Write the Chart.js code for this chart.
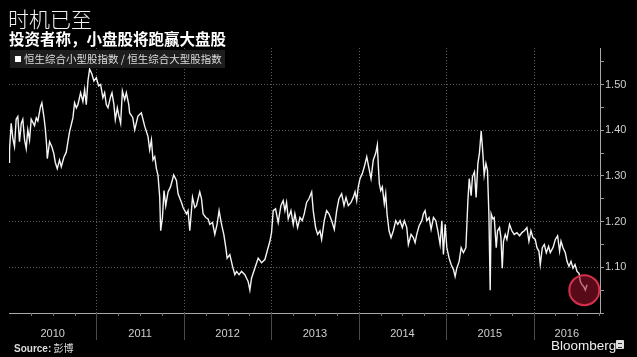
<!DOCTYPE html>
<html>
<head>
<meta charset="utf-8">
<script src="https://cdn.jsdelivr.net/npm/chart.js@4.4.1/dist/chart.umd.min.js"></script>
<style>
html, body { margin: 0; padding: 0; background: #000; }
#wrap { position: relative; width: 637px; height: 357px; overflow: hidden; background: #000;
        font-family: "Noto Sans CJK SC", "Noto Sans", sans-serif; }
#chart { position: absolute; left: 0; top: 0; }
.t { position: absolute; white-space: nowrap; }
#title { left: 8px; top: 8px; font-size: 21px; line-height: 21px; color: #f2f2f2; font-weight: 300; }
#subtitle { left: 9px; top: 30px; font-size: 15.5px; line-height: 16px; color: #fff; font-weight: 700; }
#legend { left: 10px; top: 50px; width: 215px; height: 18px; background: #1d1d1d; }
#legend .sq { position: absolute; left: 5px; top: 6px; width: 6px; height: 6px; background: #fff; }
#legend .lbl { position: absolute; left: 14px; top: 0; font-size: 10.5px; line-height: 18px; color: #ddd; }
#source { left: 14px; top: 342px; font-size: 10px; line-height: 12px; color: #ddd; }
#source b { font-family: "Liberation Sans", Arial, sans-serif; }
#logo { left: 551px; top: 339px; font-family: "Liberation Sans", Arial, sans-serif; font-size: 13.5px; line-height: 14px; color: #eee; }
#icon { left: 616px; top: 340px; width: 8px; height: 9px; background: #ddd; border-radius: 1px; }
#icon i { position: absolute; left: 2px; top: 3px; width: 4px; height: 3px; border-top: 1px solid #333; border-bottom: 1px solid #333; }
</style>
</head>
<body>
<div id="wrap">
  <canvas id="chart" width="637" height="357"></canvas>
  <div class="t" id="title">时机已至</div>
  <div class="t" id="subtitle">投资者称，小盘股将跑赢大盘股</div>
  <div class="t" id="legend"><div class="sq"></div><div class="lbl">恒生综合小型股指数 / 恒生综合大型股指数</div></div>
  <div class="t" id="source"><b>Source:</b> 彭博</div>
  <div class="t" id="logo">Bloomberg</div>
  <div class="t" id="icon"><i></i></div>
</div>
<script>
// small cap / large cap ratio (decimal years)
const dates = [
  2010.000, 2010.006, 2010.025, 2010.044, 2010.063, 2010.082, 2010.101, 2010.120, 2010.140, 2010.158,
  2010.178, 2010.197, 2010.215, 2010.235, 2010.254, 2010.292, 2010.312, 2010.330, 2010.361, 2010.376,
  2010.399, 2010.415, 2010.430, 2010.438, 2010.464, 2010.490, 2010.513, 2010.529, 2010.552, 2010.578,
  2010.598, 2010.628, 2010.655, 2010.674, 2010.693, 2010.712, 2010.731, 2010.750, 2010.770, 2010.788,
  2010.819, 2010.845, 2010.865, 2010.884, 2010.903, 2010.922, 2010.948, 2010.971, 2010.999, 2011.025,
  2011.048, 2011.074, 2011.094, 2011.113, 2011.132, 2011.163, 2011.178, 2011.200, 2011.216, 2011.239,
  2011.254, 2011.277, 2011.297, 2011.323, 2011.342, 2011.369, 2011.380, 2011.415, 2011.438, 2011.475,
  2011.514, 2011.552, 2011.590, 2011.609, 2011.629, 2011.647, 2011.667, 2011.686, 2011.704, 2011.724,
  2011.735, 2011.755, 2011.773, 2011.793, 2011.819, 2011.847, 2011.884, 2011.915, 2011.934, 2011.973,
  2011.991, 2012.030, 2012.048, 2012.068, 2012.099, 2012.125, 2012.144, 2012.182, 2012.202, 2012.220,
  2012.251, 2012.277, 2012.297, 2012.328, 2012.354, 2012.380, 2012.403, 2012.431, 2012.457, 2012.480,
  2012.495, 2012.526, 2012.557, 2012.583, 2012.603, 2012.632, 2012.660, 2012.698, 2012.717, 2012.735,
  2012.755, 2012.774, 2012.812, 2012.850, 2012.889, 2012.927, 2012.958, 2012.984, 2013.003, 2013.022,
  2013.049, 2013.079, 2013.110, 2013.136, 2013.156, 2013.175, 2013.194, 2013.225, 2013.251, 2013.270,
  2013.301, 2013.328, 2013.354, 2013.377, 2013.404, 2013.431, 2013.462, 2013.480, 2013.507, 2013.530,
  2013.557, 2013.576, 2013.606, 2013.633, 2013.660, 2013.691, 2013.721, 2013.748, 2013.774, 2013.805,
  2013.832, 2013.855, 2013.881, 2013.912, 2013.938, 2013.958, 2013.977, 2013.995, 2014.015, 2014.041,
  2014.064, 2014.092, 2014.118, 2014.141, 2014.167, 2014.195, 2014.213, 2014.225, 2014.236, 2014.252,
  2014.270, 2014.293, 2014.309, 2014.324, 2014.347, 2014.370, 2014.396, 2014.424, 2014.447, 2014.473,
  2014.499, 2014.522, 2014.550, 2014.568, 2014.599, 2014.625, 2014.645, 2014.664, 2014.691, 2014.722,
  2014.740, 2014.759, 2014.779, 2014.805, 2014.828, 2014.855, 2014.882, 2014.905, 2014.931, 2014.951,
  2014.969, 2014.989, 2015.008, 2015.034, 2015.057, 2015.084, 2015.103, 2015.122, 2015.149, 2015.172,
  2015.198, 2015.226, 2015.249, 2015.264, 2015.286, 2015.301, 2015.324, 2015.343, 2015.363, 2015.381,
  2015.401, 2015.420, 2015.435, 2015.455, 2015.473, 2015.489, 2015.504, 2015.515, 2015.535, 2015.550,
  2015.573, 2015.588, 2015.611, 2015.627, 2015.642, 2015.656, 2015.676, 2015.695, 2015.725, 2015.752,
  2015.779, 2015.810, 2015.840, 2015.867, 2015.894, 2015.924, 2015.947, 2015.970, 2015.993, 2016.019,
  2016.039, 2016.062, 2016.077, 2016.100, 2016.123, 2016.146, 2016.172, 2016.191, 2016.222, 2016.249,
  2016.275, 2016.298, 2016.314, 2016.337, 2016.363, 2016.383, 2016.405, 2016.428, 2016.451, 2016.474,
  2016.497, 2016.520, 2016.535, 2016.554, 2016.573, 2016.592, 2016.612
];

const ratio = [
  1.330, 1.357, 1.415, 1.382, 1.364, 1.424, 1.430, 1.375, 1.415, 1.424,
  1.379, 1.360, 1.401, 1.379, 1.424, 1.410, 1.427, 1.420, 1.452, 1.460,
  1.430, 1.404, 1.368, 1.338, 1.375, 1.364, 1.349, 1.330, 1.316, 1.335,
  1.320, 1.341, 1.352, 1.375, 1.397, 1.412, 1.427, 1.460, 1.449, 1.456,
  1.482, 1.463, 1.489, 1.456, 1.508, 1.534, 1.523, 1.508, 1.515, 1.497,
  1.500, 1.471, 1.482, 1.456, 1.449, 1.474, 1.482, 1.456, 1.423, 1.449,
  1.434, 1.415, 1.486, 1.467, 1.482, 1.457, 1.438, 1.428, 1.401, 1.431,
  1.438, 1.409, 1.386, 1.357, 1.379, 1.335, 1.342, 1.316, 1.302, 1.253,
  1.180, 1.209, 1.268, 1.235, 1.265, 1.276, 1.302, 1.290, 1.261, 1.242,
  1.231, 1.217, 1.224, 1.180, 1.253, 1.231, 1.235, 1.265, 1.250, 1.217,
  1.209, 1.206, 1.194, 1.198, 1.172, 1.194, 1.224, 1.194, 1.172, 1.143,
  1.120, 1.128, 1.102, 1.084, 1.091, 1.084, 1.091, 1.084, 1.076, 1.069,
  1.050, 1.076, 1.098, 1.120, 1.110, 1.117, 1.139, 1.157, 1.176, 1.224,
  1.228, 1.198, 1.235, 1.246, 1.224, 1.242, 1.206, 1.224, 1.194, 1.217,
  1.187, 1.209, 1.202, 1.217, 1.242, 1.250, 1.265, 1.224, 1.187, 1.172,
  1.180, 1.161, 1.202, 1.224, 1.217, 1.202, 1.183, 1.224, 1.250, 1.261,
  1.235, 1.253, 1.235, 1.242, 1.253, 1.265, 1.246, 1.276, 1.294, 1.305,
  1.320, 1.342, 1.316, 1.294, 1.335, 1.350, 1.368, 1.320, 1.283, 1.268,
  1.276, 1.239, 1.261, 1.217, 1.180, 1.165, 1.180, 1.202, 1.194, 1.202,
  1.187, 1.202, 1.187, 1.150, 1.172, 1.165, 1.154, 1.172, 1.191, 1.202,
  1.217, 1.224, 1.202, 1.209, 1.183, 1.209, 1.202, 1.180, 1.150, 1.202,
  1.128, 1.194, 1.143, 1.120, 1.106, 1.095, 1.080, 1.098, 1.113, 1.143,
  1.132, 1.143, 1.246, 1.294, 1.257, 1.298, 1.309, 1.253, 1.327, 1.350,
  1.398, 1.350, 1.302, 1.327, 1.312, 1.217, 1.050, 1.217, 1.206, 1.209,
  1.143, 1.180, 1.187, 1.165, 1.098, 1.157, 1.172, 1.161, 1.194, 1.180,
  1.172, 1.176, 1.169, 1.176, 1.180, 1.187, 1.157, 1.180, 1.165, 1.161,
  1.143, 1.135, 1.106, 1.143, 1.150, 1.132, 1.146, 1.132, 1.143, 1.161,
  1.169, 1.135, 1.157, 1.143, 1.132, 1.113, 1.102, 1.113, 1.098, 1.106,
  1.091, 1.087, 1.069, 1.062, 1.058, 1.050, 1.062
];

const yearLabels = ["2010", "2011", "2012", "2013", "2014", "2015", "2016"];
const yTickLabels = ["1.10", "1.20", "1.30", "1.40", "1.50"];

const xMin = 2010, xMax = 2016.76;
const yMin = 1.0, yMax = 1.58;
const firstYear = Number(yearLabels[0]);

Chart.defaults.font.family = '"Liberation Sans", Arial, sans-serif';
Chart.defaults.font.size = 11;

const gridColor = "#5c5c5c";
const axisColor = "#a8a8a8";

// dotted year lines in the plot, quarter ticks and long year dividers under the x axis
const axisMarks = {
    id: "axisMarks",
    beforeDatasetsDraw(chart) {
        const { ctx, chartArea, scales: { x } } = chart;
        ctx.save();
        ctx.lineWidth = 1;
        ctx.strokeStyle = gridColor;
        ctx.setLineDash([1, 2]);
        yearLabels.forEach((lab, i) => {
            if (i === 0) return;
            const px = Math.round(x.getPixelForValue(firstYear + i)) + 0.5;
            ctx.beginPath();
            ctx.moveTo(px, chartArea.top);
            ctx.lineTo(px, chartArea.bottom);
            ctx.stroke();
        });
        ctx.restore();
    },
    afterDraw(chart) {
        const { ctx, chartArea, scales: { x } } = chart;
        const base = chartArea.bottom;
        ctx.save();
        ctx.lineWidth = 1;
        yearLabels.forEach((lab, i) => {
            const y0 = firstYear + i;
            ctx.strokeStyle = "#7a7a7a";
            [0.25, 0.5, 0.75].forEach(q => {
                if (y0 + q >= x.max) return;
                const px = Math.round(x.getPixelForValue(y0 + q)) + 0.5;
                ctx.beginPath();
                ctx.moveTo(px, base);
                ctx.lineTo(px, base + 3);
                ctx.stroke();
            });
            if (i > 0) {
                const px = Math.round(x.getPixelForValue(y0)) + 0.5;
                ctx.strokeStyle = "#4a4a4a";
                ctx.beginPath();
                ctx.moveTo(px, base);
                ctx.lineTo(px, base + 27);
                ctx.stroke();
            }
        });
        ctx.restore();
    }
};

// red circle around the latest low
const highlight = {
    id: "highlight",
    afterDatasetsDraw(chart) {
        const pts = chart.getDatasetMeta(0).data;
        const tail = pts.slice(-4);
        let low = tail[0];
        tail.forEach(p => { if (p.y > low.y) low = p; });
        const ctx = chart.ctx;
        ctx.save();
        ctx.beginPath();
        ctx.arc(low.x - 1, low.y, 15, 0, Math.PI * 2);
        ctx.fillStyle = "rgba(160, 18, 45, 0.55)";
        ctx.fill();
        ctx.lineWidth = 2;
        ctx.strokeStyle = "#d7304f";
        ctx.stroke();
        ctx.restore();
    }
};

function renderChart() {
    const ctx = document.getElementById("chart");

    new Chart(ctx, {
        type: "line",
        data: {
            datasets: [{
                data: dates.map((d, i) => ({ x: d, y: ratio[i] })),
                borderColor: "#f4f4f4",
                borderWidth: 1.4,
                pointRadius: 0,
                tension: 0
            }]
        },
        options: {
            responsive: false,
            animation: false,
            layout: { padding: { left: 9, top: 48, right: 0, bottom: 0 } },
            plugins: { legend: { display: false }, tooltip: { enabled: false } },
            scales: {
                x: {
                    type: "linear",
                    min: xMin,
                    max: xMax,
                    afterBuildTicks: scale => {
                        scale.ticks = yearLabels.map((lab, i) => {
                            const y0 = firstYear + i;
                            const y1 = Math.min(y0 + 1, scale.max);
                            return { value: (y0 + y1) / 2, name: lab };
                        });
                    },
                    afterFit: scale => { scale.height = 44; },
                    grid: { drawOnChartArea: false, drawTicks: false },
                    border: { display: true, color: axisColor },
                    ticks: {
                        callback: (v, i, ticks) => ticks[i].name || "",
                        color: "#cfcfcf",
                        padding: 14,
                        autoSkip: false,
                        maxRotation: 0
                    }
                },
                y: {
                    position: "right",
                    min: yMin,
                    max: yMax,
                    afterBuildTicks: scale => {
                        const ticks = [];
                        for (let k = 0; k <= 11; k++) {
                            ticks.push({ value: Math.round((yMin + k * 0.05) * 100) / 100 });
                        }
                        scale.ticks = ticks;
                    },
                    afterFit: scale => { scale.width = 37; },
                    grid: {
                        color: c => (c.tick && yTickLabels.includes(c.tick.value.toFixed(2))) ? gridColor : "rgba(0,0,0,0)",
                        tickColor: "#999",
                        tickLength: 4
                    },
                    border: { display: true, color: axisColor, dash: [1, 2] },
                    ticks: {
                        callback: v => yTickLabels.includes(v.toFixed(2)) ? v.toFixed(2) : "",
                        color: "#cfcfcf",
                        padding: 1,
                        autoSkip: false
                    }
                }
            }
        },
        plugins: [axisMarks, highlight]
    });
}

renderChart();
</script>
</body>
</html>
